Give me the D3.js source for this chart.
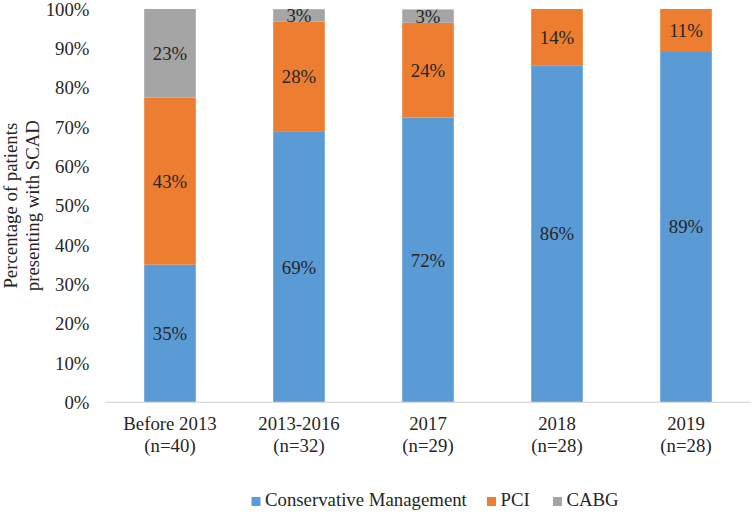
<!DOCTYPE html>
<html>
<head>
<meta charset="utf-8">
<script src="https://cdn.jsdelivr.net/npm/d3@7"></script>
<style>
  html, body { margin: 0; padding: 0; background: #fff; }
  svg { display: block; }
  text { font-family: "Liberation Serif", "Times New Roman", serif; }
</style>
</head>
<body>
<svg id="chart" width="753" height="513"></svg>
<script>
const categories = ["Before 2013", "2013-2016", "2017", "2018", "2019"];
const categorySubLabels = ["(n=40)", "(n=32)", "(n=29)", "(n=28)", "(n=28)"];
const seriesNames = ["Conservative Management", "PCI", "CABG"];
const conservative = [35, 68.75, 72.4, 85.7, 89.3];
const pci = [42.5, 28.1, 24.1, 14.3, 10.7];
const cabg = [22.5, 3.1, 3.4, 0, 0];
const conservativeLabels = ["35%", "69%", "72%", "86%", "89%"];
const pciLabels = ["43%", "28%", "24%", "14%", "11%"];
const cabgLabels = ["23%", "3%", "3%", "", ""];
const yTicks = [0, 10, 20, 30, 40, 50, 60, 70, 80, 90, 100];
const colors = ["#5B9BD5", "#ED7D31", "#A5A5A5"];

const FS = 18.8;
const svg = d3.select("#chart");
const x = d3.scaleBand().domain(categories).range([105.5, 750.5]).paddingInner(0.6).paddingOuter(0.3);
const y = d3.scaleLinear().domain([0, 100]).range([402.3, 9]);

const rows = categories.map((c, i) => ({
  cat: c, "Conservative Management": conservative[i], "PCI": pci[i], "CABG": cabg[i],
  labels: { "Conservative Management": conservativeLabels[i], "PCI": pciLabels[i], "CABG": cabgLabels[i] }
}));
const stacked = d3.stack().keys(seriesNames)(rows);

const textColor = "#262626";

// y-axis tick labels
svg.append("g").selectAll("text").data(yTicks).join("text")
  .attr("x", 89.5).attr("y", d => y(d)).attr("dy", "0.35em")
  .attr("text-anchor", "end").attr("font-size", FS).attr("fill", textColor)
  .text(d => d + "%");

// bars
stacked.forEach((s, si) => {
  const g = svg.append("g");
  g.selectAll("rect").data(s).join("rect")
    .attr("x", d => x(d.data.cat)).attr("width", x.bandwidth())
    .attr("y", d => y(Math.min(d[1], 100)))
    .attr("height", d => Math.max(0, y(d[0]) - y(Math.min(d[1], 100))))
    .attr("fill", colors[si]);
});

// baseline axis
svg.append("line").attr("x1", 105.5).attr("x2", 750.5).attr("y1", y(0)).attr("y2", y(0))
  .attr("stroke", "#D9D9D9").attr("stroke-width", 1.3);

// data labels
stacked.forEach((s, si) => {
  svg.append("g").selectAll("text").data(s.filter(d => d.data.labels[s.key] !== "")).join("text")
    .attr("x", d => x(d.data.cat) + x.bandwidth() / 2)
    .attr("y", d => (y(d[0]) + y(Math.min(d[1], 100))) / 2)
    .attr("dy", "0.35em").attr("text-anchor", "middle")
    .attr("font-size", FS).attr("fill", textColor)
    .text(d => d.data.labels[s.key]);
});

// category labels
const cg = svg.append("g").selectAll("text").data(categories).join("text")
  .attr("x", d => x(d) + x.bandwidth() / 2).attr("y", 430)
  .attr("text-anchor", "middle").attr("font-size", FS).attr("fill", textColor);
cg.append("tspan").attr("x", d => x(d) + x.bandwidth() / 2).text(d => d);
cg.append("tspan").attr("x", d => x(d) + x.bandwidth() / 2).attr("dy", 22)
  .text((d, i) => categorySubLabels[i]);

// y-axis title
svg.append("text")
  .attr("transform", `translate(17,${(y(0) + y(100)) / 2}) rotate(-90)`)
  .attr("text-anchor", "middle").attr("font-size", FS).attr("fill", textColor)
  .selectAll("tspan").data(["Percentage of patients", "presenting with SCAD"]).join("tspan")
  .attr("x", 0).attr("dy", (d, i) => i === 0 ? 0 : 22).text(d => d);

// legend
const legendX = [251.5, 487, 553];
const lg = svg.append("g").selectAll("g").data(seriesNames).join("g")
  .attr("transform", (d, i) => `translate(${legendX[i]},0)`);
lg.append("rect").attr("x", 0).attr("y", 497).attr("width", 9).attr("height", 9)
  .attr("fill", (d, i) => colors[i]);
lg.append("text").attr("x", 13.5).attr("y", 506).attr("font-size", FS).attr("fill", textColor)
  .text(d => d);
</script>
</body>
</html>
